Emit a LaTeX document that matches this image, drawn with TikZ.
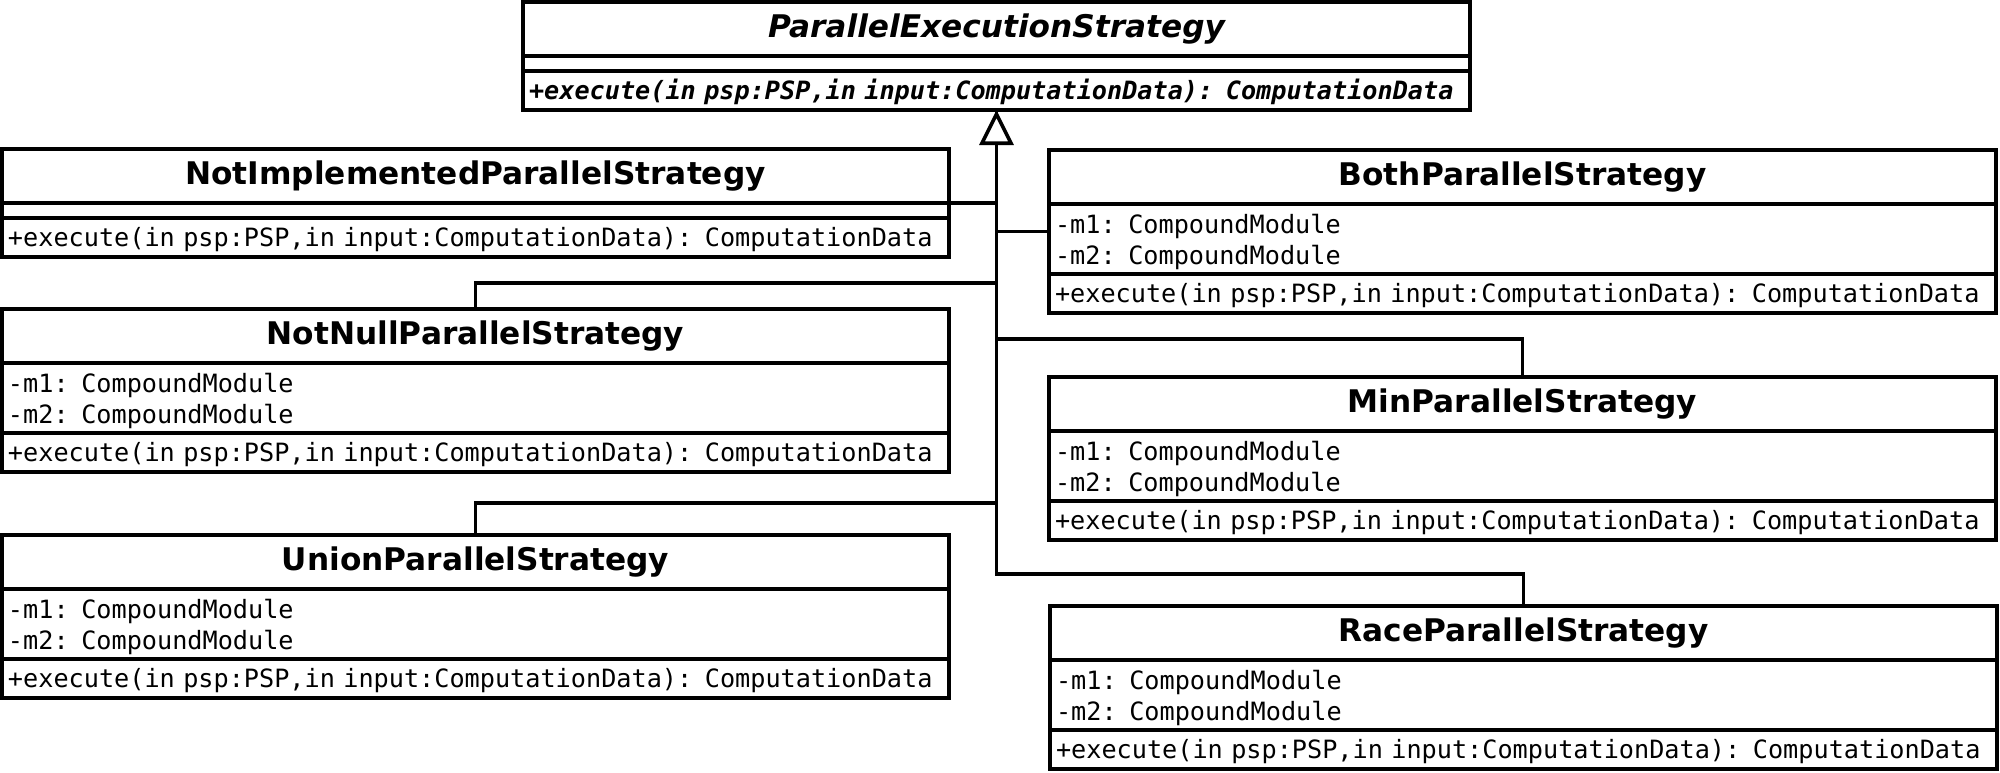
\documentclass[tikz,border=0pt]{standalone}
\usepackage{fontspec}
\setmainfont{DejaVu Sans}
\newfontfamily\umlmono{DejaVu Sans Mono}
\usetikzlibrary{positioning,calc,arrows.meta}

\begin{document}
\begin{tikzpicture}[
        x = 0.5pt, y = -0.5pt,
        line join=miter,
        box/.style = {draw, line width=1.8pt, inner sep=0pt, outer sep=0pt, minimum width=473.5pt, anchor=north west},
        classname/.style = {box, minimum height=27pt, font=\bfseries\fontsize{15.6}{18}\selectfont},
        noattr/.style = {box, minimum height=7.5pt},
        fields/.style = {box, minimum height=35pt, text height=13pt, align=left, text width=467.5pt, inner xsep=3pt, font=\umlmono\fontsize{12.6}{15.5}\selectfont},
        ops/.style = {box, minimum height=19.5pt, text height=12pt, align=left, text width=467.5pt, inner xsep=3pt, font=\umlmono\fontsize{12.6}{15.5}\selectfont,
            execute at begin node=\hbox\bgroup, execute at end node=\egroup},
        link/.style = {line width=1.8pt},
        inherit/.style = {link, -{Triangle[open, fill=white, length=17.5pt, width=17pt]}}
    ]

    \useasboundingbox (0, 0) rectangle (2000, 772);

    \node[classname, font=\bfseries\itshape\fontsize{15.6}{18}\selectfont] (pes) at (523, 2) {ParallelExecutionStrategy};
    \node[noattr, below=0pt of pes] (pes attr) {};
    \node[ops, below=0pt of pes attr, font=\umlmono\bfseries\itshape\fontsize{12.6}{15.5}\selectfont] (pes op) {+execute(in psp:PSP,in input:ComputationData): ComputationData};

    \node[classname] (ni) at (2, 149) {NotImplementedParallelStrategy};
    \node[noattr, below=0pt of ni] (ni attr) {};
    \node[ops, below=0pt of ni attr] (ni op) {+execute(in psp:PSP,in input:ComputationData): ComputationData};

    \node[classname] (nn) at (2, 309) {NotNullParallelStrategy};
    \node[fields, below=0pt of nn] (nn attr) {-m1: CompoundModule\\-m2: CompoundModule};
    \node[ops, below=0pt of nn attr] (nn op) {+execute(in psp:PSP,in input:ComputationData): ComputationData};

    \node[classname] (union) at (2, 535) {UnionParallelStrategy};
    \node[fields, below=0pt of union] (union attr) {-m1: CompoundModule\\-m2: CompoundModule};
    \node[ops, below=0pt of union attr] (union op) {+execute(in psp:PSP,in input:ComputationData): ComputationData};

    \node[classname] (both) at (1049, 150) {BothParallelStrategy};
    \node[fields, below=0pt of both] (both attr) {-m1: CompoundModule\\-m2: CompoundModule};
    \node[ops, below=0pt of both attr] (both op) {+execute(in psp:PSP,in input:ComputationData): ComputationData};

    \node[classname] (min) at (1049, 377) {MinParallelStrategy};
    \node[fields, below=0pt of min] (min attr) {-m1: CompoundModule\\-m2: CompoundModule};
    \node[ops, below=0pt of min attr] (min op) {+execute(in psp:PSP,in input:ComputationData): ComputationData};

    \node[classname] (race) at (1050, 606) {RaceParallelStrategy};
    \node[fields, below=0pt of race] (race attr) {-m1: CompoundModule\\-m2: CompoundModule};
    \node[ops, below=0pt of race attr] (race op) {+execute(in psp:PSP,in input:ComputationData): ComputationData};

    \draw[link] ($(ni.north east)!.5!(ni op.south east)$) coordinate (ni mid) -- (ni mid -| pes op.south);
    \draw[link] ($(both.north west)!.5!(both op.south west)$) coordinate (both mid) -- (both mid -| pes op.south);
    \draw[link] (nn.north) -- ++(0, -26) -| (pes op.south);
    \draw[link] (min.north) -- ++(0, -38) -| (pes op.south);
    \draw[link] (union.north) -- ++(0, -32) -| (pes op.south);
    \draw[inherit] (race.north) -- ++(0, -32) -| (pes op.south);
\end{tikzpicture}
\end{document}
